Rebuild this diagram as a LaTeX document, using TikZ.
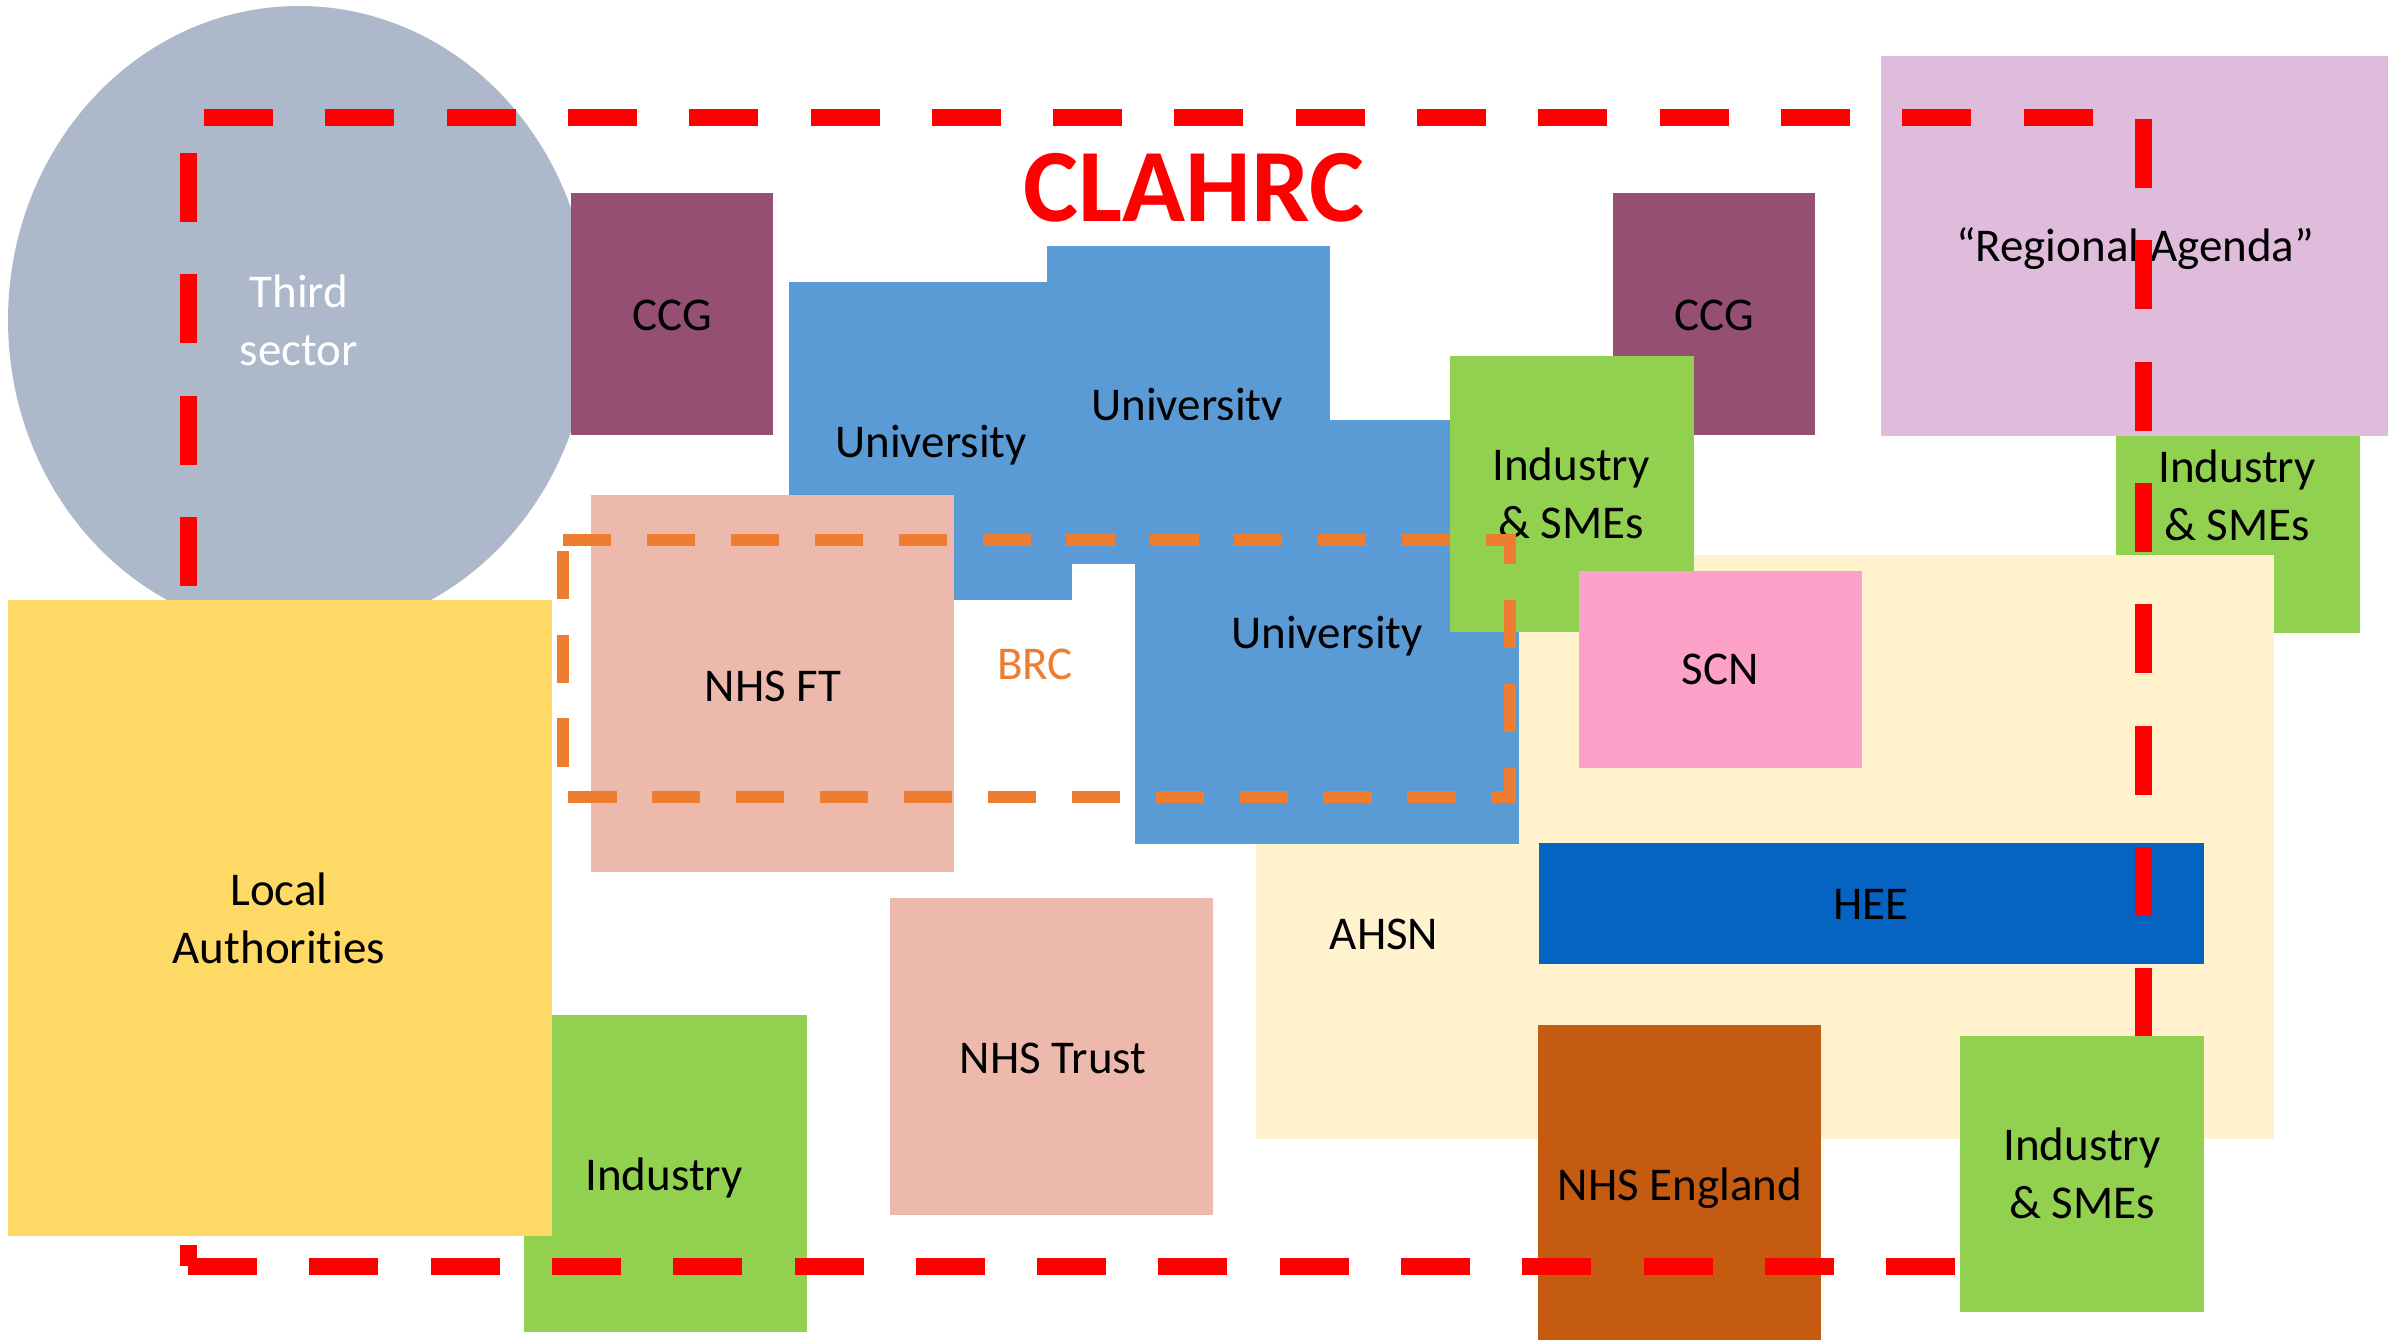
\documentclass[tikz,border=0pt]{standalone}
\usepackage{fontspec}
\setmainfont{Carlito}[Ligatures=NoCommon]
\definecolor{thirdsec}{HTML}{ADB9CA}
\definecolor{ccgc}{HTML}{954F72}
\definecolor{univc}{HTML}{5B9BD5}
\definecolor{nhsc}{HTML}{EEB9AD}
\definecolor{lac}{HTML}{FFD966}
\definecolor{indc}{HTML}{92D050}
\definecolor{ahsnc}{HTML}{FFF2CC}
\definecolor{scnc}{HTML}{FCA1C8}
\definecolor{heec}{HTML}{0563C1}
\definecolor{nhsec}{HTML}{C55A11}
\definecolor{regc}{HTML}{E0BCDC}
\definecolor{brcc}{HTML}{ED7D31}
\definecolor{clahrcred}{HTML}{FF0000}
\begin{document}
\begin{tikzpicture}[x=0.5pt,y=-0.5pt,
  lbl/.style={inner sep=0pt,anchor=base,align=center,
    font=\fontsize{23.5}{29}\selectfont},
  brcframe/.style={draw=brcc,line width=6pt,
    dash pattern=on 24.1pt off 17.85pt},
  clahrcframe/.style={draw=clahrcred,line width=8.5pt,
    dash pattern=on 34.5pt off 26.15pt}]
\useasboundingbox (0,0) rectangle (2399,1340);

% Third sector (two-line labels are placed by the baseline of their last line)
\fill[thirdsec] (299,320) ellipse [x radius=291, y radius=314];
\node[lbl,text=white] (third) at (299,365) {T\kern0pt hird\\sector};

% CCG (left)
\fill[ccgc] (571,193) rectangle (773,435);
\node[lbl] (ccgA) at (672,330) {CCG};

% Regional agenda and the industry box below it
\fill[regc] (1881,56) rectangle (2388,436);
\node[lbl] (region) at (2135,261) {“Regional Agenda”};
\fill[indc] (2116,436) rectangle (2360,633);
\node[lbl] (indTR) at (2237,540) {Industry\\\& SMEs};

% AHSN
\fill[ahsnc] (1256,555) rectangle (2274,1139);
\node[lbl] (ahsn) at (1384,949) {AHSN};

% Universities
\fill[univc] (789,282) rectangle (1072,600);
\node[lbl] (uniA) at (931,457) {University};
\fill[univc] (1047,246) rectangle (1330,564);
\node[lbl] (uniB) at (1187,420) {University};
\fill[univc] (1135,420) rectangle (1519,844);
\node[lbl] (uniC) at (1327,648) {University};

% NHS FT
\fill[nhsc] (591,495) rectangle (954,872);
\node[lbl] (nhsft) at (773,701) {NHS FT};

% CCG (right) and industry
\fill[ccgc] (1613,193) rectangle (1815,435);
\node[lbl] (ccgB) at (1714,330) {CCG};
\fill[indc] (1450,356) rectangle (1694,632);
\node[lbl] (indMid) at (1571,538) {Industry\\\& SMEs};

% SCN, HEE
\fill[scnc] (1579,571) rectangle (1862,768);
\node[lbl] (scn) at (1720,684) {SCN};
\fill[heec] (1539,843) rectangle (2204,964);
\node[lbl] (hee) at (1871,919) {HEE};

% NHS Trust, NHS England
\fill[nhsc] (890,898) rectangle (1213,1215);
\node[lbl] (trust) at (1053,1073) {NHS Trust};
\fill[nhsec] (1538,1025) rectangle (1821,1340);
\node[lbl] (england) at (1680,1200) {NHS England};

% Industry (bottom left)
\fill[indc] (524,1015) rectangle (807,1332);
\node[lbl] (indBL) at (664,1190) {Industry};

% BRC frame
\node[lbl,text=brcc] (brc) at (1035,679) {BRC};
\draw[brcframe] (563,540) -- (1510,540) -- (1510,797) -- (563,797) -- cycle;

% CLAHRC frame
\node[inner sep=0pt,anchor=base,text=clahrcred,
  font=\bfseries\fontsize{52}{60}\selectfont] (clahrc) at (1194,221) {CLAHRC};
\draw[clahrcframe] (204,117) -- (2143,117);
\draw[clahrcframe] (2143,119) -- (2143,1266);
\draw[clahrcframe] (188,1266) -- (2143,1266);
\draw[clahrcframe] (188,153) -- (188,1266);

% Local authorities
\fill[lac] (8,600) rectangle (552,1236);
\node[lbl] (la) at (279,963) {Local\\Authorit\kern0pt ies};

% Industry & SMEs (bottom right)
\fill[indc] (1960,1036) rectangle (2204,1312);
\node[lbl] (indBR) at (2082,1218) {Industry\\\& SMEs};
\end{tikzpicture}
\end{document}
